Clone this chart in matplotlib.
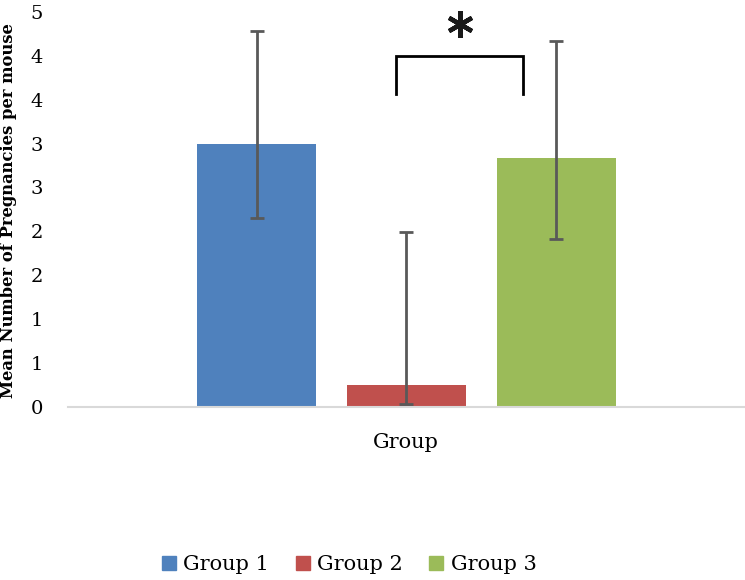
import numpy as np
import matplotlib.pyplot as plt
from matplotlib.patches import Patch

# data
groups = ['Group 1', 'Group 2', 'Group 3']
means = [3.00, 0.25, 2.83]
err_low = [0.85, 0.22, 0.92]
err_high = [1.28, 1.74, 1.34]
colors = ['#4F81BD', '#C0504D', '#9BBB59']
ytick_vals = [0, 0.5, 1, 1.5, 2, 2.5, 3, 3.5, 4, 4.5]
ytick_labels = ['0', '1', '1', '2', '2', '3', '3', '4', '4', '5']

# significance bracket between Group 2 and Group 3
bracket_x = [-0.07, 0.78]
bracket_y = [3.56, 4.0]
star_y = 4.36

plt.rcParams['font.family'] = ['DejaVu Serif']

fig = plt.figure(figsize=(7.45, 5.8), dpi=100)
ax = fig.add_axes([68 / 745, 1 - 406.7 / 580, 1 - 68 / 745, (406.7 - 12) / 580])

x = np.arange(len(groups)) - 1.0
ax.bar(x, means, width=0.79, color=colors, zorder=2)
ax.errorbar(x, means, yerr=[err_low, err_high], fmt='none', ecolor='#595959',
            elinewidth=2, capsize=5, capthick=2, zorder=3)

bx0, bx1 = bracket_x
ylo, yhi = bracket_y
ax.plot([bx0, bx0, bx1, bx1], [ylo, yhi, yhi, ylo], color='black', lw=2,
        solid_joinstyle='miter', zorder=3)
ax.plot([(bx0 + bx1) / 2], [star_y], marker=(6, 2, 0), markersize=19,
        markeredgewidth=3.2, color='#1a1a1a', clip_on=False, zorder=3)

ax.set_xlim(-2.257, 2.257)
ax.set_ylim(0, 4.5)
ax.set_yticks(ytick_vals)
ax.set_yticklabels(ytick_labels, fontsize=14)
ax.tick_params(axis='y', length=0, pad=18)
ax.set_xticks([])
for s in ['top', 'right', 'left']:
    ax.spines[s].set_visible(False)
ax.spines['bottom'].set_color('#D9D9D9')
ax.spines['bottom'].set_linewidth(1.5)

fig.text(9 / 745, 1 - 211 / 580, 'Mean Number of Pregnancies per mouse',
         rotation=90, ha='center', va='center', fontsize=11.8, fontweight='bold')
fig.text(406 / 745, 1 - 443 / 580, 'Group', ha='center', va='center', fontsize=15)

handles = [Patch(color=c, label=g) for g, c in zip(groups, colors)]
fig.legend(handles=handles, loc='center', bbox_to_anchor=(349 / 745, 1 - 565 / 580),
           ncol=3, frameon=False, fontsize=15, handlelength=0.67, handleheight=0.67,
           handletextpad=0.34, columnspacing=1.3, borderpad=0)

fig.savefig('out.png', dpi=100)
